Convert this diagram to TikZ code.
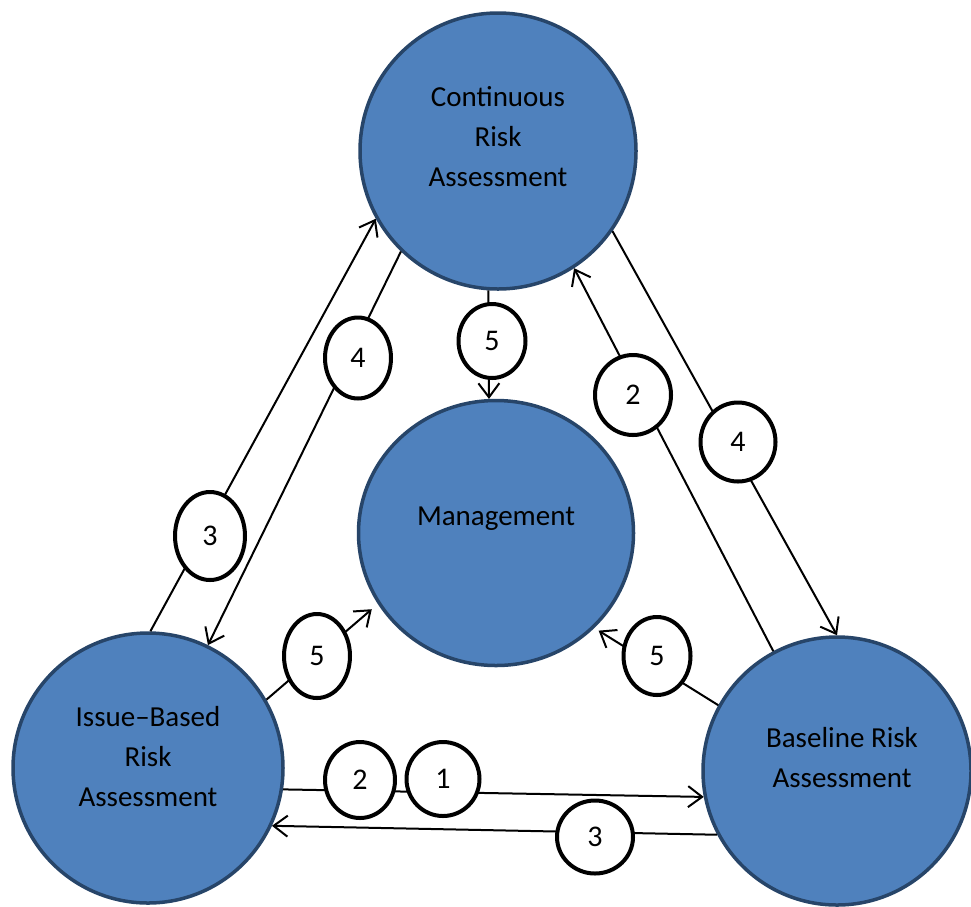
\documentclass[tikz,border=0pt]{standalone}
\usepackage{fontspec}
\setmainfont{Carlito}
\usetikzlibrary{arrows.meta,shapes.geometric}
\definecolor{phasefill}{HTML}{4F81BD}
\definecolor{phaseedge}{HTML}{274569}
\tikzset{
  phase/.style={circle, fill=phasefill, draw=phaseedge, line width=3.5pt, inner sep=0pt},
  phasetext/.style={align=center, inner sep=0pt, font=\fontsize{29}{40}\selectfont},
  flow/.style={line width=2pt, -{Straight Barb[length=14pt,width=21pt]}},
  stage/.style={ellipse, draw=black, fill=white, line width=4pt, inner sep=0pt,
                font=\fontsize{30}{35}\selectfont},
}
\begin{document}
\begin{tikzpicture}[x=1pt, y=-1pt]
  \useasboundingbox (0,0) rectangle (971,906);
  \fill[white] (0,0) rectangle (971,906);

  % the four assessment phases
  \node[phase, minimum size=276pt] (T) at (498,151) {};
  \node[phase, ellipse, minimum width=275pt, minimum height=265pt] (M) at (496,533) {};
  \node[phase, minimum size=270pt] (I) at (148,768) {};
  \node[phase, minimum size=268pt] (B) at (837,771) {};

  \node[phasetext] (Tlabel) at (498,137) {Continuous\\Risk\\Assessment};
  \node[phasetext] (Mlabel) at (496,519) {Management};
  \node[phasetext] (Ilabel) at (148,757) {Issue–Based\\Risk\\Assessment};
  \node[phasetext] (Blabel) at (842,758) {Baseline Risk\\Assessment};

  % information flows between phases
  \draw[flow] (I.351) -- (B.191);
  \draw[flow] (B.208) -- (I.335);
  \draw[flow] (I.89)  -- (T.209);
  \draw[flow] (T.226) -- (I.64);
  \draw[flow] (T.266) -- (M.93);
  \draw[flow, shorten >=8pt] (I.30) -- (M.211);
  \draw[flow, shorten >=5pt] (B.151) -- (M.316);
  \draw[flow] (B.118) -- (T.303);
  \draw[flow] (T.325) -- (B.90);

  % step numbers on the flows
  \node[stage, minimum width=70pt, minimum height=76pt] (s2a) at (360,780) {2};
  \node[stage, minimum width=73pt, minimum height=74pt] (s1)  at (443,779) {1};
  \node[stage, minimum width=76pt, minimum height=73pt] (s3a) at (595,837) {3};
  \node[stage, minimum width=70pt, minimum height=88pt] (s3b) at (210,536) {3};
  \node[stage, minimum width=66pt, minimum height=81pt] (s4a) at (358,358) {4};
  \node[stage, minimum width=67pt, minimum height=74pt] (s5a) at (492,341) {5};
  \node[stage, minimum width=76pt, minimum height=80pt] (s2b) at (633,395) {2};
  \node[stage, minimum width=75pt, minimum height=79pt] (s4b) at (738,442) {4};
  \node[stage, minimum width=66pt, minimum height=84pt] (s5b) at (317,656) {5};
  \node[stage, minimum width=67pt, minimum height=78pt] (s5c) at (657,656) {5};
\end{tikzpicture}
\end{document}
